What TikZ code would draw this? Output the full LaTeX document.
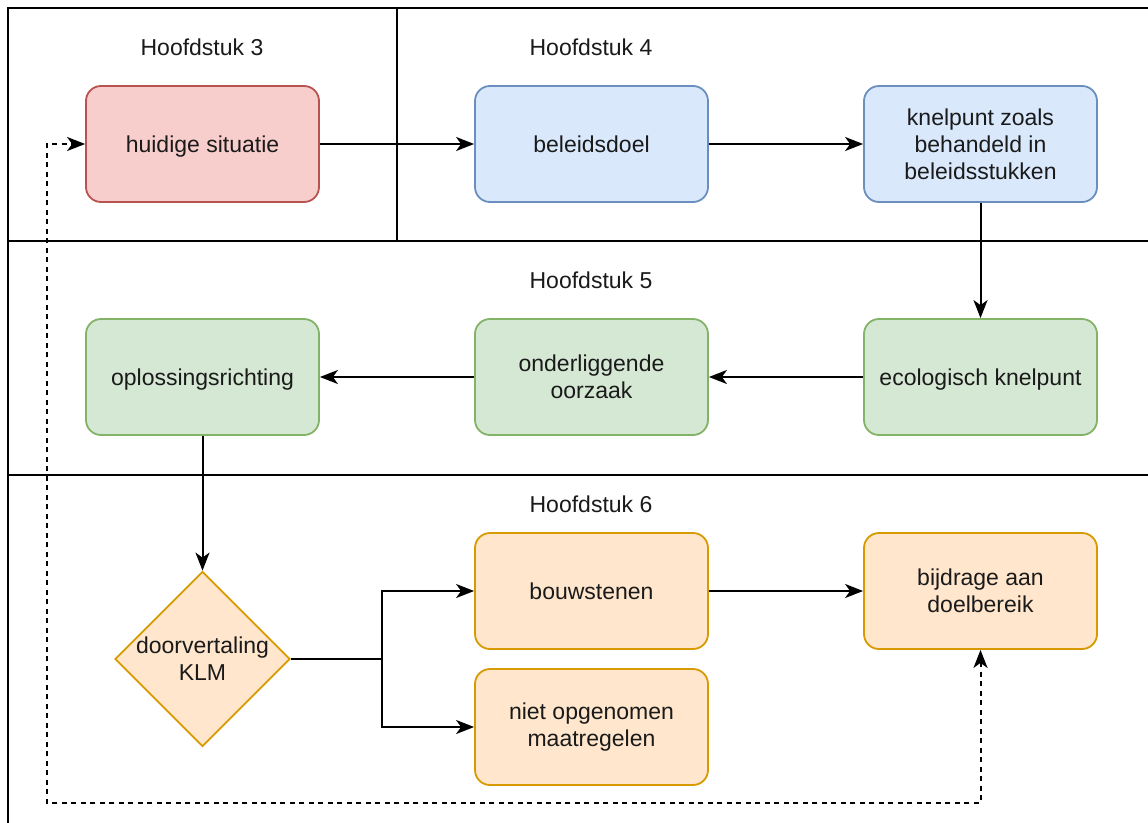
\documentclass[tikz,border=0pt]{standalone}
\usepackage{fontspec}
\setmainfont{Liberation Sans}
\usetikzlibrary{shapes.geometric,arrows.meta}

\definecolor{redfill}{HTML}{F8CECC}\definecolor{redline}{HTML}{B85450}
\definecolor{bluefill}{HTML}{DAE8FC}\definecolor{blueline}{HTML}{6C8EBF}
\definecolor{greenfill}{HTML}{D5E8D4}\definecolor{greenline}{HTML}{82B366}
\definecolor{orangefill}{HTML}{FFE6CC}\definecolor{orangeline}{HTML}{D79B00}
\definecolor{txt}{HTML}{1A1A1A}

% one-line captions: fixed height and depth so every baseline sits alike
\newcommand{\oneline}[1]{\raisebox{-2.5pt}[17pt][6pt]{#1}}

\tikzset{
  lbl/.style={font=\fontsize{23}{27}\selectfont, text=txt, align=center},
  card/.style={lbl, rectangle, rounded corners=15pt, line width=1.8pt,
    minimum width=233pt, minimum height=116pt, inner sep=0pt},
  redcard/.style={card, fill=redfill, draw=redline},
  bluecard/.style={card, fill=bluefill, draw=blueline},
  greencard/.style={card, fill=greenfill, draw=greenline},
  orangecard/.style={card, fill=orangefill, draw=orangeline},
  flow/.style={line width=2pt, -{Stealth[length=18pt,width=14pt,inset=5pt]}},
  backflow/.style={line width=2pt, dash pattern=on 5pt off 4.5pt,
    {Stealth[length=18pt,width=14pt,inset=5pt]}-{Stealth[length=18pt,width=14pt,inset=5pt]}},
  lane/.style={line width=2pt, line cap=rect},
}

\begin{document}
\begin{tikzpicture}[x=1pt, y=-1pt]
\useasboundingbox[fill=white] (0,0) rectangle (1148,822);

% chapter lanes
\draw[lane] (8,822) -- (8,8) -- (1148,8);
\draw[lane] (397,8) -- (397,241);
\draw[lane] (8,241) -- (1148,241);
\draw[line width=1.4pt] (8,475) -- (1148,475);

% chapter titles
\node[lbl] (h3) at (202,47) {\oneline{Hoofdstuk 3}};
\node[lbl] (h4) at (591,47) {\oneline{Hoofdstuk 4}};
\node[lbl] (h5) at (591,280) {\oneline{Hoofdstuk 5}};
\node[lbl] (h6) at (591,504) {\oneline{Hoofdstuk 6}};

% row 1
\node[redcard]  (huidig)  at (202.5,144) {\oneline{huidige situatie}};
\node[bluecard] (doel)    at (591.5,144) {\oneline{beleidsdoel}};
\node[bluecard] (knel)    at (980.5,144) {knelpunt zoals\\behandeld in\\beleidsstukken};

% row 2
\node[greencard] (oplos)   at (202.5,377) {\oneline{oplossingsrichting}};
\node[greencard] (oorzaak) at (591.5,377) {onderliggende\\oorzaak};
\node[greencard] (eco)     at (980.5,377) {\oneline{ecologisch knelpunt}};

% row 3
\node[draw=orangeline, fill=orangefill, line width=1.8pt, diamond, aspect=1,
      minimum width=175pt, minimum height=175pt, inner sep=0pt] (klm) at (202.5,659) {};
\node[lbl] (klmtext) at (klm.center) {doorvertaling\\KLM};
\node[orangecard] (bouw)  at (591.5,591) {\oneline{bouwstenen}};
\node[orangecard] (niet)  at (591.5,727) {niet opgenomen\\maatregelen};
\node[orangecard] (bijdr) at (980.5,591) {bijdrage aan\\doelbereik};

% connectors
\draw[flow] (huidig) -- (doel);
\draw[flow] (doel) -- (knel);
\draw[flow] (knel) -- (eco);
\draw[flow] (eco) -- (oorzaak);
\draw[flow] (oorzaak) -- (oplos);
\draw[flow] (oplos) -- (klm);
\coordinate (split) at (382,659);
\draw[line width=2pt] (klm.east) -- (split);
\draw[flow] (split) |- (bouw.west);
\draw[flow] (split) |- (niet.west);
\draw[flow] (bouw) -- (bijdr);

% feedback loop
\coordinate (loopcorner) at (47,803);
\draw[backflow] (bijdr.south) -- (bijdr.south |- loopcorner) -- (loopcorner) |- (huidig.west);
\end{tikzpicture}
\end{document}
